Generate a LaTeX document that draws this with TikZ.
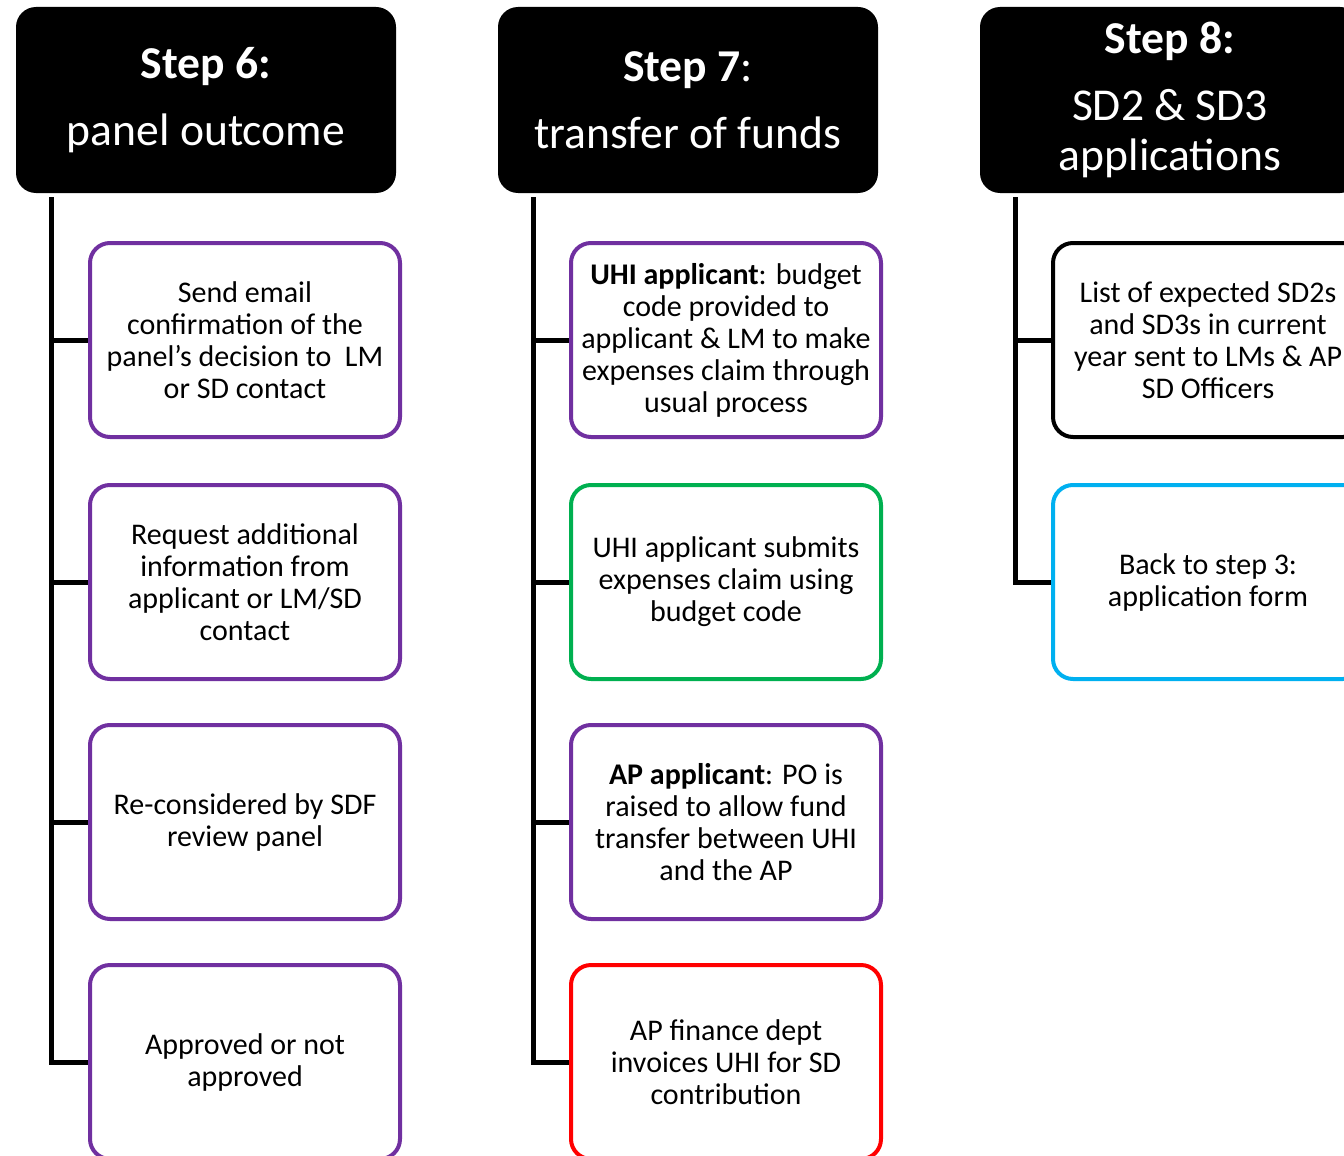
\documentclass[tikz,border=0pt]{standalone}
\usepackage{fontspec}
\setmainfont{Carlito}
\usepackage{xcolor}
\usepackage{tikz}
\usetikzlibrary{positioning}

\definecolor{sdPurple}{HTML}{7030A0}
\definecolor{sdGreen}{HTML}{00B050}
\definecolor{sdRed}{HTML}{FF0000}
\definecolor{sdBlue}{HTML}{00B0F0}

\begin{document}
\begin{tikzpicture}[x=0.5pt, y=-0.5pt,
  header/.style={fill=black, rounded corners=10pt, minimum width=190pt,
    minimum height=93pt, inner sep=0pt, text=white, align=center,
    font=\fontsize{22.8}{25}\selectfont},
  task/.style={draw=#1, line width=2pt, fill=white, rounded corners=10pt,
    minimum width=155pt, minimum height=97pt, inner sep=0pt, align=center,
    font=\fontsize{15}{16}\selectfont},
  task/.default=sdPurple,
  stem/.style={line width=2.5pt}]
  \useasboundingbox (0,0) rectangle (1344,1156);
  \clip (0,0) rectangle (1344,1156);

  % step headers
  \node[header] (h6) at (206,100) {\textbf{Step 6:}\\[8.5pt] panel outcome};
  \node[header] (h7) at (688,100) {\textbf{Step 7}:\\[8.5pt] transfer of funds};
  \node[header] (h8) at (1170,100) {\textbf{Step 8:}\\[8.5pt] SD2 \& SD3\\ applications};

  % step 6 tasks
  \node[task] (t6a) at (245,340) {Send email\\ confirmation of the\\ panel’s decision to~ LM\\ or SD contact};
  \node[task] (t6b) at (245,582) {Request additional\\ information from\\ applicant or LM/SD\\ contact};
  \node[task] (t6c) at (245,822) {Re-considered by SDF\\ review panel};
  \node[task] (t6d) at (245,1062) {Approved or not\\ approved};

  % step 7 tasks
  \node[task] (t7a) at (726,340) {\textbf{UHI applicant}: budget\\ code provided to\\ applicant \& LM to make\\ expenses claim through\\ usual process};
  \node[task=sdGreen] (t7b) at (726,582) {UHI applicant submits\\ expenses claim using\\ budget code};
  \node[task] (t7c) at (726,822) {\textbf{AP applicant}: PO is\\ raised to allow fund\\ transfer between UHI\\ and the AP};
  \node[task=sdRed] (t7d) at (726,1062) {AP finance dept\\ invoices UHI for SD\\ contribution};

  % step 8 tasks
  \node[task=black] (t8a) at (1208,340) {List of expected SD2s\\ and SD3s in current\\ year sent to LMs \& AP\\ SD Officers};
  \node[task=sdBlue] (t8b) at (1208,582) {Back to step 3:\\ application form};

  % stems and branches
  \coordinate (s6) at (51,197);
  \coordinate (s7) at (533,197);
  \coordinate (s8) at (1015,197);
  \draw[stem] (s6) |- (t6d.west);
  \draw[stem] (s7) |- (t7d.west);
  \draw[stem] (s8) |- (t8b.west);
  \foreach \s/\t in {s6/t6a,s6/t6b,s6/t6c,s7/t7a,s7/t7b,s7/t7c,s8/t8a}
    \draw[stem] (\s |- \t.west) -- (\t.west);
\end{tikzpicture}
\end{document}
